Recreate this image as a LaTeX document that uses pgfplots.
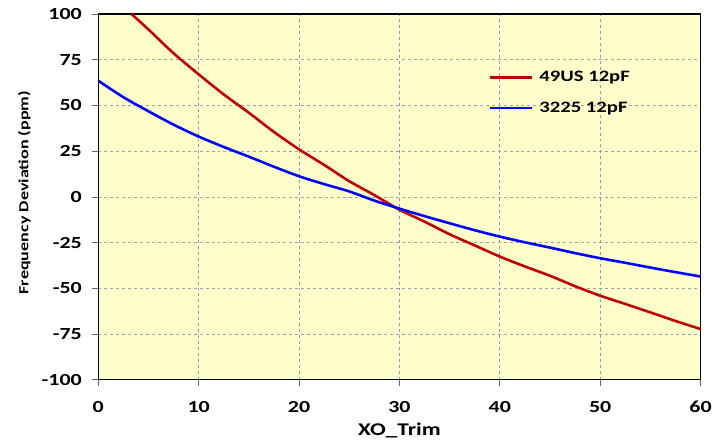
\documentclass[border=0pt]{standalone}
\usepackage{graphicx}
\usepackage{pgfplots}
\pgfplotsset{compat=1.18}
\usepackage{fontspec}
\setmainfont{Carlito}[FakeStretch=1.3]

\definecolor{plotbg}{RGB}{255,255,204}
\definecolor{curvered}{RGB}{192,0,0}
\definecolor{curveblue}{RGB}{0,0,255}
\definecolor{hgrid}{RGB}{160,160,160}
\definecolor{vgrid}{RGB}{140,155,190}

\begin{document}
\begin{tikzpicture}
\begin{axis}[
    scale only axis,
    width=604bp, height=367bp,
    xmin=0, xmax=60, ymin=-100, ymax=100,
    xtick={0,10,...,60},
    ytick={-100,-75,...,100},
    axis background/.style={fill=plotbg},
    axis line style={black, line width=1.2bp},
    tick pos=left,
    tick align=outside,
    major tick length=6bp,
    tick style={black!60, line width=0.8bp},
    xmajorgrids, ymajorgrids,
    x grid style={vgrid, dashed, line width=0.8bp},
    y grid style={hgrid, dashed, line width=0.8bp},
    /pgf/number format/assume math mode=true,
    tick label style={font=\fontsize{17}{20}\selectfont\bfseries},
    xticklabel style={yshift=-12bp},
    yticklabel style={xshift=-7bp},
    xlabel={XO\_Trim},
    ylabel={Frequency Deviation (ppm)},
    xlabel style={font=\fontsize{18}{21}\selectfont\bfseries,
        at={(axis description cs:0.5,-0.1526)}, anchor=base},
    ylabel style={font=\fontsize{14}{17}\selectfont\bfseries,
        at={(axis description cs:-0.123,0.512)}, anchor=center},
    legend style={draw=none, fill=none, at={(axis cs:38.6,57)}, anchor=west,
        font=\fontsize{16}{19}\selectfont\bfseries, row sep=15bp,
        column sep=4bp, legend cell align=left},
    legend image code/.code={\draw[#1, line width=2.6bp] (0bp,0bp) -- (42bp,0bp);},
]
\addplot[curvered, line width=2.6bp, smooth] coordinates {
    (3.3,100) (5,91.5) (7.5,78.5) (10,67) (12.5,56) (15,46) (17.5,35.5)
    (20,26) (22.5,17.5) (25,8.6) (27.5,1) (30,-7) (32.5,-13.5) (35,-20.4)
    (37.5,-26.5) (40,-32.6) (42.5,-38) (45,-43.1) (47.5,-48.8) (50,-54)
    (52.5,-58.5) (55,-63.1) (57.5,-67.8) (60,-72.2)
};
\addlegendentry{49US 12pF}
\addplot[curveblue, line width=2.6bp, smooth] coordinates {
    (0,63.5) (2.5,54.5) (5,46.8) (7.5,39.5) (10,33) (12.5,27.3) (15,22)
    (17.5,16.5) (20,11.3) (22.5,7) (25,3) (27.5,-2) (30,-6.4) (32.5,-10.5)
    (35,-14.4) (37.5,-18.2) (40,-21.7) (42.5,-24.8) (45,-27.7) (47.5,-30.7)
    (50,-33.5) (52.5,-36) (55,-38.6) (57.5,-41.1) (60,-43.5)
};
\addlegendentry{3225 12pF}
\end{axis}
\path ([shift={(-98.6bp,-63bp)}]current axis.south west)
    rectangle ([shift={(12.4bp,14bp)}]current axis.north east);
\end{tikzpicture}
\end{document}
